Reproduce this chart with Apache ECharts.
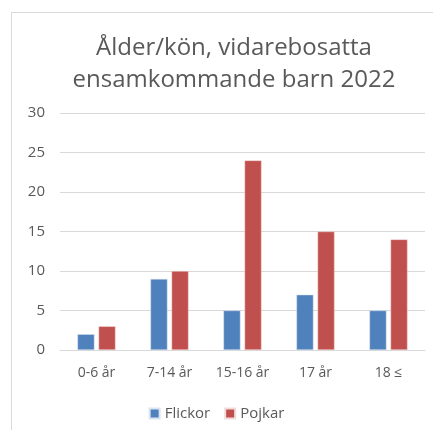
<!DOCTYPE html>
<html>
<head>
<meta charset="utf-8">
<script src="https://cdn.jsdelivr.net/npm/echarts@6/dist/echarts.min.js"></script>
<style>
  html, body { margin: 0; padding: 0; background: #fff; }
  #chart { width: 433px; height: 430px; }
</style>
</head>
<body>
<div id="chart"></div>
<script>
var categories = ['0-6 år', '7-14 år', '15-16 år', '17 år', '18 ≤'];
var flickor = [2, 9, 5, 7, 5];
var pojkar = [3, 10, 24, 15, 14];
var seriesNames = ['Flickor', 'Pojkar'];
var colors = ['#4F81BD', '#C0504D'];

var textColor = '#595959';
var fontName = 'Open Sans';

var myChart = echarts.init(document.getElementById('chart'));

var option = {
    animation: false,
    color: colors,
    title: {
        text: 'Ålder/kön, vidarebosatta\nensamkommande barn 2022',
        left: 229,
        top: 27,
        textAlign: 'center',
        textStyle: {
            color: textColor,
            fontFamily: fontName,
            fontWeight: 'normal',
            fontSize: 24,
            lineHeight: 32
        }
    },
    graphic: [{
        type: 'rect',
        shape: { x: 11.5, y: 12.5, width: 440, height: 440 },
        style: { fill: 'none', stroke: '#d9d9d9', lineWidth: 1 },
        silent: true
    }],
    legend: {
        top: 401,
        left: 'center',
        itemWidth: 10,
        itemHeight: 10,
        itemGap: 14,
        icon: 'rect',
        textStyle: { color: textColor, fontFamily: fontName, fontSize: 15 },
        data: seriesNames
    },
    grid: {
        left: 60,
        right: 8,
        top: 113,
        bottom: 80
    },
    xAxis: {
        type: 'category',
        data: categories,
        axisTick: { show: false },
        axisLine: { lineStyle: { color: '#d9d9d9' } },
        axisLabel: {
            interval: 0,
            color: textColor,
            fontFamily: fontName,
            fontSize: 14,
            margin: 16
        }
    },
    yAxis: {
        type: 'value',
        min: 0,
        max: 30,
        interval: 5,
        axisLine: { show: false },
        axisTick: { show: false },
        splitLine: { lineStyle: { color: '#d9d9d9' } },
        axisLabel: {
            color: textColor,
            fontFamily: fontName,
            fontSize: 15,
            margin: 15
        }
    },
    series: [{
        name: seriesNames[0],
        type: 'bar',
        data: flickor,
        barWidth: 17,
        barGap: '24%',
        itemStyle: { borderColor: '#dbe5f1', borderWidth: 0.5 }
    }, {
        name: seriesNames[1],
        type: 'bar',
        data: pojkar,
        barWidth: 17,
        itemStyle: { borderColor: '#f2dcdb', borderWidth: 0.5 }
    }]
};

myChart.setOption(option);
</script>
</body>
</html>
